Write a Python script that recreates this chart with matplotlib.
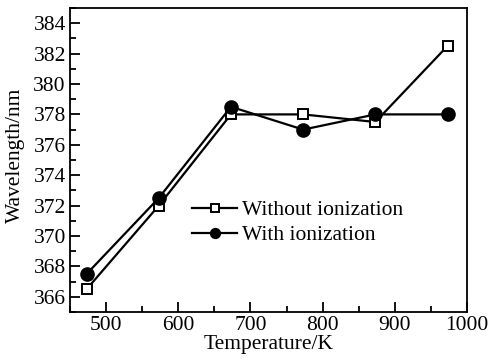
import matplotlib.pyplot as plt
import matplotlib.ticker as ticker

temperature = [473, 573, 673, 773, 873, 973]
without_ion = [366.5, 372.0, 378.0, 378.0, 377.5, 382.5]
with_ion = [367.5, 372.5, 378.5, 377.0, 378.0, 378.0]

plt.rcParams['font.family'] = ['Liberation Serif', 'DejaVu Serif']

W, H = 490, 359
fig = plt.figure(figsize=(W/100, H/100), dpi=100)
ax = fig.add_axes([70/W, 1-312/H, (467-70)/W, (312-8)/H])

ax.plot(temperature, without_ion, color='black', lw=1.6, marker='s', ms=7.5,
        mfc='white', mec='black', mew=1.4, label='Without ionization')
ax.plot(temperature, with_ion, color='black', lw=1.6, marker='o', ms=9.5,
        mfc='black', mec='black', label='With ionization')

ax.set_xlim(450, 1000)
ax.set_ylim(365, 385)
ax.xaxis.set_major_locator(ticker.MultipleLocator(100))
ax.xaxis.set_minor_locator(ticker.MultipleLocator(50))
ax.yaxis.set_major_locator(ticker.MultipleLocator(2))
ax.yaxis.set_minor_locator(ticker.MultipleLocator(1))
ax.tick_params(which='both', direction='in', top=False, right=False, labelsize=15.5, width=1.3)
ax.tick_params(which='major', length=7, pad=3)
ax.tick_params(which='minor', length=4.5)
for s in ax.spines.values():
    s.set_linewidth(1.3)

ax.set_xlabel('Temperature/K', fontsize=15.5, labelpad=0)
ax.set_ylabel('Wavelength/nm', fontsize=15.5)
ax.yaxis.set_label_coords(-0.114, 0.516)

ax.legend(loc='upper left', bbox_to_anchor=(192/W, 1-200/H), bbox_transform=fig.transFigure,
          frameon=False, fontsize=15.5, markerscale=0.75,
          handlelength=2.1, handletextpad=0.2, labelspacing=0.24, borderpad=0, borderaxespad=0)

fig.savefig('out.png', dpi=100)
